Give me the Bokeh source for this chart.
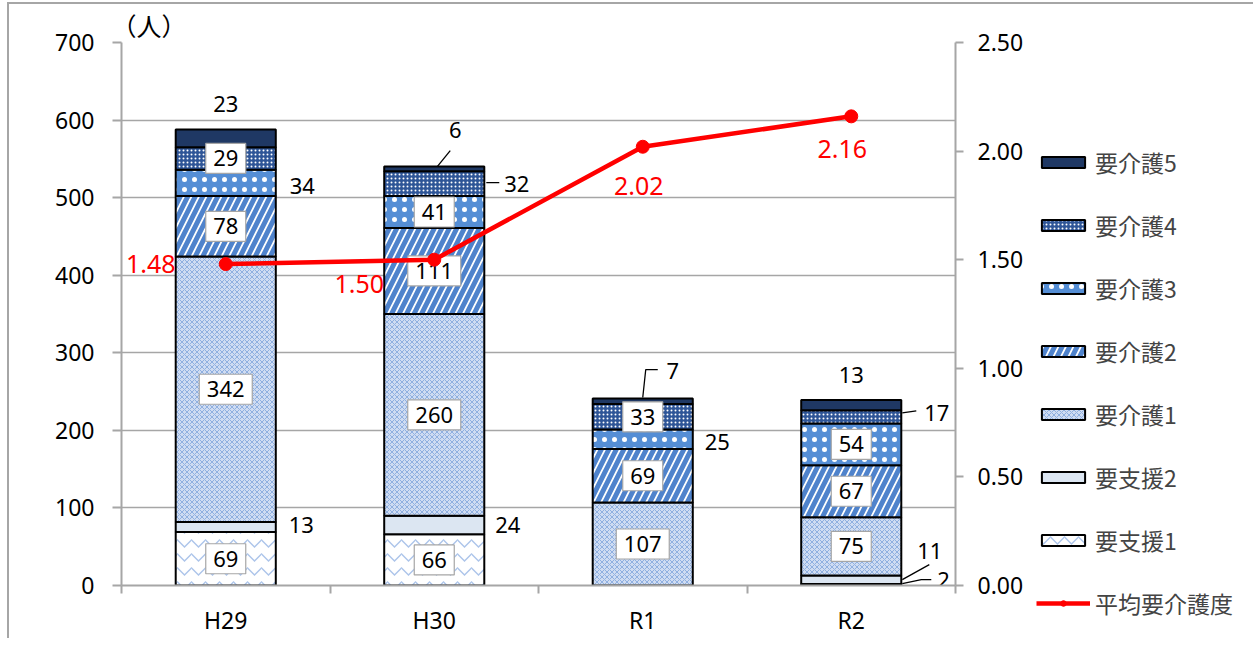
from bokeh.plotting import figure
from bokeh.models import Range1d, LinearAxis, FixedTicker, Legend, LegendItem, NumeralTickFormatter
from bokeh.core.properties import value
from bokeh.embed import file_html
from bokeh.resources import INLINE

# ---------------- data ----------------
categories = ["H29", "H30", "R1", "R2"]
series_names = ["要支援1", "要支援2", "要介護1", "要介護2", "要介護3", "要介護4", "要介護5"]
shien1 = [69, 66, 0, 2]
shien2 = [13, 24, 0, 11]
kaigo1 = [342, 260, 107, 75]
kaigo2 = [78, 111, 69, 67]
kaigo3 = [34, 41, 25, 54]
kaigo4 = [29, 32, 33, 17]
kaigo5 = [23, 6, 7, 13]
avg_level = [1.48, 1.50, 2.02, 2.16]
avg_name = "平均要介護度"
left_ticks = [0, 100, 200, 300, 400, 500, 600, 700]
right_ticks = [0.0, 0.5, 1.0, 1.5, 2.0, 2.5]
unit_text = "（人）"

series_values = [shien1, shien2, kaigo1, kaigo2, kaigo3, kaigo4, kaigo5]

# ---------------- layout / style ----------------
FW, FH = 834, 543
YMAX, RMAX = 700, 2.5
NC = len(categories)
BAR_W = 0.48
PXX = NC / FW
PXY = YMAX / FH
PXR = RMAX / FH
NUM_FONT = "Noto Sans"
JP_FONT = "Noto Sans CJK JP"
GRID = "#a6a6a6"

styles = [
    dict(fill_color="white", hatch_pattern="horizontal_wave", hatch_color="#adc5ea", hatch_scale=14, hatch_weight=1.5),
    dict(fill_color="#dce6f2"),
    dict(fill_color="#cfdcf2", hatch_pattern="diagonal_cross", hatch_color="#8fafe0", hatch_scale=5, hatch_weight=1),
    dict(fill_color="white", hatch_pattern="right_diagonal_line", hatch_color="#4f83cc", hatch_scale=15, hatch_weight=5),
    dict(fill_color="#558ed5", hatch_pattern="dot", hatch_color="white", hatch_scale=10, hatch_weight=1),
    dict(fill_color="#2e5597", hatch_pattern="dot", hatch_color="white", hatch_scale=4, hatch_weight=1.1),
    dict(fill_color="#1f3864"),
]

# label placement (pixel offsets; screen y downwards)
placement = {
    (0, 1): ("side", 13, -2, []),
    (0, 4): ("side", 14, 3, []),
    (0, 6): ("top", 0, -25, []),
    (1, 1): ("side", 11, 0, []),
    (1, 5): ("side", 20, 0, [(2, -1), (15, -1)]),
    (1, 6): ("top", 21, -37, [(3, 0), (16, -16)]),
    (2, 4): ("side", 12, 3, []),
    (2, 6): ("top", 30, -28, [(0, -1), (3, -29), (15, -29)]),
    (3, 0): ("side", 36, -5, [(1, -1), (20, -5), (30, -5)]),
    (3, 1): ("side", 16, -29, [(1, 0), (28, -15)]),
    (3, 5): ("side", 23, -4, [(1, -4), (15, -6)]),
    (3, 6): ("top", 0, -25, []),
}
avg_offsets = [(-75, 0), (-75, 24), (-4, 39), (-9, 33)]

p = figure(frame_width=FW, frame_height=FH, x_range=Range1d(0, NC), y_range=Range1d(0, YMAX),
           output_backend="svg", toolbar_location=None,
           min_border_left=112, min_border_right=280, min_border_top=38, min_border_bottom=44)
p.extra_y_ranges = {"avg": Range1d(0, RMAX)}
p.outline_line_color = None
p.background_fill_color = "white"
p.styles = {"border-left": "2px solid #a6a6a6", "border-top": "2px solid #a6a6a6",
            "margin-left": "7px", "margin-top": "2px"}

p.title.text = unit_text
p.title.align = "left"
p.title.offset = -10
p.title.standoff = 0
p.title.text_font = JP_FONT
p.title.text_font_size = "25px"
p.title.text_font_style = "normal"
p.title.text_color = "black"

xc = [i + 0.5 for i in range(NC)]

# ---------- bars ----------
bar_renderers = []
bottoms = [0] * NC
seg_bottom = []
seg_top = []
for vals, st in zip(series_values, styles):
    tops = [b + v for b, v in zip(bottoms, vals)]
    r = p.vbar(x=xc, bottom=bottoms, top=tops, width=BAR_W, line_color="black", line_width=2, **st)
    bar_renderers.append(r)
    seg_bottom.append(list(bottoms))
    seg_top.append(tops)
    bottoms = tops
totals = bottoms

# ---------- value labels ----------
box_x, box_y, box_w, box_t = [], [], [], []
out_x, out_y, out_t, out_align = [], [], [], []
lead_xs, lead_ys = [], []
for s, vals in enumerate(series_values):
    for c, v in enumerate(vals):
        if v <= 0:
            continue
        mid = (seg_bottom[s][c] + seg_top[s][c]) / 2
        txt = str(v)
        if (c, s) not in placement:
            box_x.append(xc[c]); box_y.append(mid); box_t.append(txt)
            box_w.append(14 + 13 * len(txt))
            continue
        kind, dx, dy, lead = placement[(c, s)]
        if kind == "side":
            ax, ay, align = xc[c] + BAR_W / 2, mid, "left"
        else:
            ax, ay, align = xc[c], totals[c], "center"
        out_x.append(ax + dx * PXX); out_y.append(ay - dy * PXY); out_t.append(txt); out_align.append(align)
        if lead:
            lead_xs.append([ax + lx * PXX for lx, ly in lead])
            lead_ys.append([ay - ly * PXY for lx, ly in lead])

p.rect(x=box_x, y=box_y, width=box_w, height=30, width_units="screen", height_units="screen",
       fill_color="white", line_color="#a6a6a6", line_width=1.2)
p.text(x=box_x, y=box_y, text=box_t, text_align="center", text_baseline="middle",
       text_font=value(NUM_FONT), text_font_size="22px", text_color="black")
p.text(x=out_x, y=out_y, text=out_t, text_align=out_align, text_baseline="middle",
       text_font=value(NUM_FONT), text_font_size="22px", text_color="black")
p.multi_line(xs=lead_xs, ys=lead_ys, line_color="black", line_width=1.3)

# ---------- average line ----------
line_r = p.line(x=xc, y=avg_level, y_range_name="avg", line_color="#ff0000", line_width=4.5)
dot_r = p.scatter(x=xc, y=avg_level, y_range_name="avg", size=13, fill_color="#ff0000", line_color="#ff0000")
p.text(x=[x + o[0] * PXX for x, o in zip(xc, avg_offsets)],
       y=[y - o[1] * PXR for y, o in zip(avg_level, avg_offsets)],
       text=["%.2f" % v for v in avg_level], y_range_name="avg",
       text_align="center", text_baseline="middle",
       text_font=value(NUM_FONT), text_font_size="25px", text_color="#ff0000")

# ---------- axes ----------
xa = p.xaxis[0]
xa.ticker = FixedTicker(ticks=xc, minor_ticks=list(range(NC + 1)))
xa.major_label_overrides = {x: c for x, c in zip(xc, categories)}
xa.major_tick_out = 0
xa.major_tick_in = 0
xa.minor_tick_out = 8
xa.minor_tick_in = 0
xa.minor_tick_line_color = GRID
xa.minor_tick_line_width = 2
xa.major_label_standoff = 10

ya = p.yaxis[0]
ya.ticker = FixedTicker(ticks=left_ticks)
ya.major_tick_out = 9
ya.major_tick_in = 0
ya.minor_tick_line_color = None
ya.major_label_standoff = 18

ra = LinearAxis(y_range_name="avg", ticker=FixedTicker(ticks=right_ticks),
                formatter=NumeralTickFormatter(format="0.00"))
ra.major_tick_out = 8
ra.major_tick_in = 0
ra.minor_tick_line_color = None
ra.major_label_standoff = 14
p.add_layout(ra, "right")

for ax in (xa, ya, ra):
    ax.axis_line_color = GRID
    ax.axis_line_width = 2
    ax.major_tick_line_color = GRID
    ax.major_tick_line_width = 2
    ax.major_label_text_font = NUM_FONT
    ax.major_label_text_font_size = "23px"
    ax.major_label_text_color = "black"

p.xgrid.grid_line_color = None
p.ygrid.ticker = FixedTicker(ticks=left_ticks)
p.ygrid.grid_line_color = GRID
p.ygrid.grid_line_width = 1.5

# ---------- legend ----------
items = [LegendItem(label=series_names[i], renderers=[bar_renderers[i]]) for i in reversed(range(len(series_names)))]
items.append(LegendItem(label=avg_name, renderers=[line_r, dot_r]))
legend = Legend(items=items, location=(-214, -35), glyph_width=54, glyph_height=14, label_height=20,
                spacing=29, padding=0, margin=0, border_line_color=None, background_fill_alpha=0,
                label_text_font=JP_FONT, label_text_font_size="23px", label_standoff=5)
p.add_layout(legend, "right")

open("out.html", "w").write(file_html(p, INLINE))
